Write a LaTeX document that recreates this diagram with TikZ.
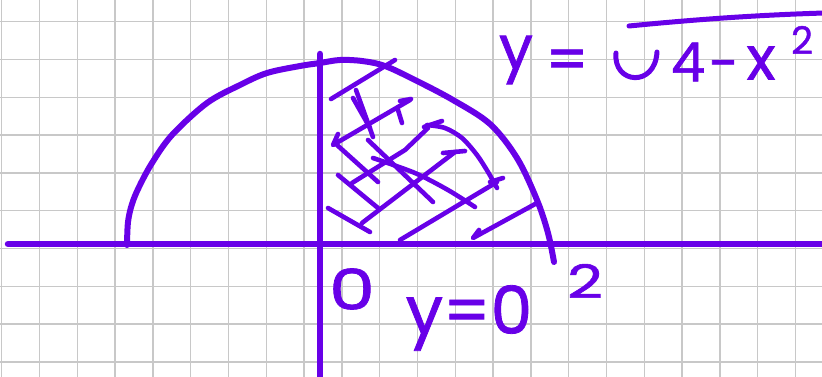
\documentclass[tikz,border=0pt]{standalone}
\usepackage{fontspec}
\setmainfont{Poppins}
\newfontfamily\hand{Poppins}[FakeBold=1.2]
\definecolor{ink}{RGB}{104,0,232}
\definecolor{gridc}{RGB}{200,200,200}
\begin{document}
\begin{tikzpicture}[x=1pt,y=-1pt,
  gridline/.style={draw=gridc,line width=1.4pt},
  axis/.style={draw=ink,line width=6.5pt,line cap=round},
  curve/.style={draw=ink,line width=6pt,line cap=round,line join=round},
  hatch/.style={draw=ink,line width=4.6pt,line cap=round,line join=round},
  lbl/.style={text=ink,inner sep=0pt,font=\hand\fontsize{#1}{#1}\selectfont}]
\fill[white] (0,0) rectangle (822,377);
\useasboundingbox (0,0) rectangle (822,377);
% grid
\foreach \i in {0,...,21} \draw[gridline] ({1.7+37.8*\i},0) -- ({1.7+37.8*\i},377);
\foreach \j in {0,...,9} \draw[gridline] (0,{21.7+37.8*\j}) -- (822,{21.7+37.8*\j});
% axes
\coordinate (xl) at (8,244); \coordinate (xr) at (830,244);
\coordinate (yt) at (320,54); \coordinate (yb) at (320,385);
\draw[axis] (xl) -- (xr);
\draw[axis] (yt) -- (yb);
% semicircle
\draw[curve] plot[smooth,tension=0.55] coordinates {(127,245) (128,222) (132,204) (139,187) (152,163) (172,135) (207,103) (240,85) (267,73) (300,66) (320,63) (340,60) (362,61) (385,66) (415,80) (453,100) (490,124) (517,158) (537,200) (548,233) (554,262)};
% hatching: up-right strokes
\draw[hatch] (331,99) -- (395,60);
\draw[hatch] (338,134) -- (333,145) -- (410,100);
\draw[hatch] (400,101) -- (411,99);
\draw[hatch] (352,183) -- (405,150) -- (428,128);
\draw[hatch] (424,127) -- (442,121);
\draw[hatch] (362,223) -- (455,152);
\draw[hatch] (443,153) -- (465,151);
\draw[hatch] (400,240) -- (497,182);
\draw[hatch] (490,182) -- (503,178);
\draw[hatch] (479,230) -- (473,238) -- (537,203) -- (540,207);
% hatching: other strokes
\draw[hatch] (356,90) -- (373,137);
\draw[hatch] (353,98) -- (370,128);
\draw[hatch] (398,110) -- (402,123);
\draw[hatch] (337,145) -- (378,182);
\draw[hatch] (368,140) -- (433,202);
\draw[hatch] (338,175) -- (378,208);
\draw[hatch] (328,208) -- (370,232);
\draw[hatch] plot[smooth] coordinates {(373,158) (415,173) (448,190) (475,207)};
\draw[hatch] plot[smooth] coordinates {(427,125) (445,128) (462,138) (477,155) (488,172) (497,188)};
% labels
\node[lbl=56] (zero) at (352,289) {\scalebox{1.3}[1]{0}};
\node[lbl=66] (yzero) at (469,318) {y=0};
\node[lbl=46] (two) at (585,281) {\scalebox{1.35}[1]{2}};
\node[lbl=60] (fy) at (516,60) {y};
\node[lbl=60] (feq) at (567,65) {=};
\node[lbl=54] (f4) at (688,62) {4};
\node[lbl=54,anchor=base] (fminus) at (724,82) {-};
\node[lbl=60] (fx) at (761,63) {x};
\node[lbl=38] (f2) at (802,40) {2};
% radical sign
\coordinate (r1) at (616,53);
\coordinate (r2) at (657,52);
\coordinate (v1) at (629,26);
\coordinate (v2) at (824,13);
\draw[curve,line width=5pt] (r1) .. controls (613,84) and (655,88) .. (r2);
\draw[curve,line width=5pt] (v1) .. controls (700,19) and (760,15) .. (v2);
\end{tikzpicture}
\end{document}
